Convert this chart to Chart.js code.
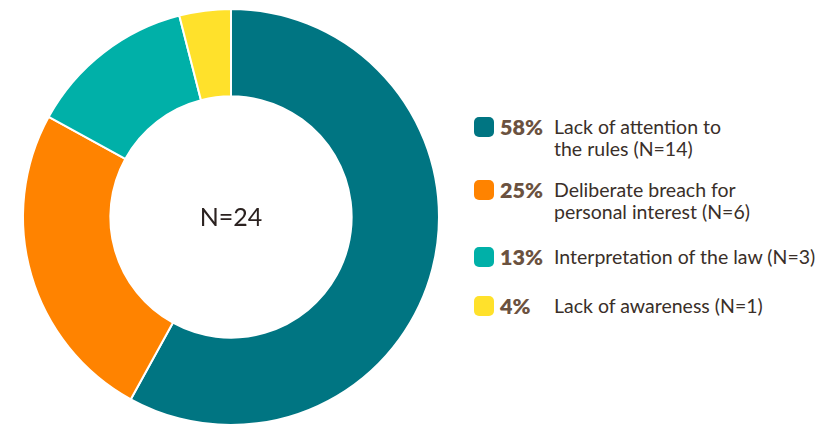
<!DOCTYPE html>
<html><head><meta charset="utf-8">
<script src="https://cdn.jsdelivr.net/npm/chart.js@4.4.1/dist/chart.umd.min.js"></script>
<style>
html,body{margin:0;padding:0;background:#fff;width:832px;height:424px;overflow:hidden;font-family:Lato,"Open Sans",sans-serif;}
#wrap{position:absolute;left:0;top:8px;width:462px;height:418px;}
#legend{position:absolute;left:474px;top:0;}
.item{position:absolute;left:0;display:flex;align-items:flex-start;width:360px;}
.sw{width:20px;height:20px;border-radius:5px;margin-top:1px;flex:none;}
.pct{font-weight:800;color:#6b5240;font-size:21.5px;width:54px;margin-left:6px;line-height:23px;flex:none;}
.lbl{color:#3a2f29;font-size:19.5px;line-height:22px;}
</style></head>
<body>
<div id="wrap"><canvas id="c"></canvas></div>
<div id="legend"></div>
<script>
const categories = ["Lack of attention to the rules (N=14)", "Deliberate breach for personal interest (N=6)", "Interpretation of the law (N=3)", "Lack of awareness (N=1)"];
const legendLines = [["Lack of attention to", "the rules (N=14)"], ["Deliberate breach for", "personal interest (N=6)"], ["Interpretation of the law (N=3)"], ["Lack of awareness (N=1)"]];
const counts = [14, 6, 3, 1];
const percentValues = [58, 25, 13, 4];
const colors = ["#007582", "#FF8300", "#00B0A8", "#FFE12B"];
const centerLabel = "N=24";
const legendTops = [116, 179, 246, 295];

const centerText = {
  id: 'centerText',
  afterDraw(chart) {
    const m = chart.getDatasetMeta(0).data[0];
    const ctx = chart.ctx;
    ctx.save();
    ctx.font = '25px Lato, "Open Sans", sans-serif';
    ctx.fillStyle = '#2b2220';
    ctx.textAlign = 'center';
    ctx.textBaseline = 'middle';
    ctx.fillText(centerLabel, m.x, m.y + 1);
    ctx.restore();
  }
};

new Chart(document.getElementById('c'), {
  type: 'doughnut',
  data: { labels: categories, datasets: [{ data: percentValues, backgroundColor: colors, borderColor: '#fff', borderWidth: 2, hoverOffset: 0 }] },
  options: {
    responsive: true, maintainAspectRatio: false, animation: false,
    cutout: '58%',
    plugins: { legend: { display: false }, tooltip: { enabled: false } },
    layout: { padding: 0 }
  },
  plugins: [centerText]
});

const lg = document.getElementById('legend');
categories.forEach((c, i) => {
  const d = document.createElement('div');
  d.className = 'item';
  d.style.top = legendTops[i] + 'px';
  d.innerHTML = '<div class="sw" style="background:' + colors[i] + '"></div><div class="pct">' + percentValues[i] + '%</div><div class="lbl">' + legendLines[i].join('<br>') + '</div>';
  lg.appendChild(d);
});
</script>
</body></html>
